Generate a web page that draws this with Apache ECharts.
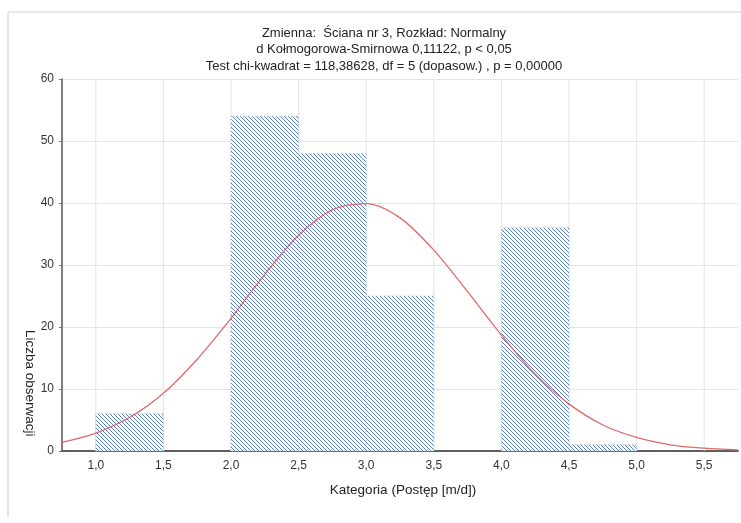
<!DOCTYPE html>
<html><head><meta charset="utf-8">
<script src="https://cdn.jsdelivr.net/npm/echarts@6/dist/echarts.min.js"></script>
<style>html,body{margin:0;padding:0;background:#fff}#c{width:741px;height:523px}</style>
</head><body><div id="c"></div>
<script>
// Histogram bins (lower edge, upper edge) and counts
const binStart = [1.0, 1.5, 2.0, 2.5, 3.0, 3.5, 4.0, 4.5];
const binEnd   = [1.5, 2.0, 2.5, 3.0, 3.5, 4.0, 4.5, 5.0];
const counts   = [6, 0, 54, 48, 25, 0, 36, 1];
// Fitted normal curve
const curveX = [0.75, 1.0, 1.25, 1.5, 1.75, 2.0, 2.25, 2.5, 2.75, 3.0, 3.25, 3.5, 3.75, 4.0, 4.25, 4.5, 4.75, 5.0, 5.25, 5.5, 5.75];
const curveY = [1.4, 2.9, 5.4, 9.3, 14.8, 21.4, 28.5, 34.8, 38.9, 39.9, 37.6, 32.4, 25.7, 18.7, 12.4, 7.6, 4.2, 2.2, 1.0, 0.45, 0.17];
const xTicks = ['1,0','1,5','2,0','2,5','3,0','3,5','4,0','4,5','5,0','5,5'];
const titleLines = ['Zmienna:  Ściana nr 3, Rozkład: Normalny', 'd Kołmogorowa-Smirnowa 0,11122, p < 0,05', 'Test chi-kwadrat = 118,38628, df = 5 (dopasow.) , p = 0,00000'];

const bars = binStart.map((s, i) => [s, binEnd[i], counts[i]]);
const curve = curveX.map((x, i) => [x, curveY[i]]);

// hatch pattern
const pc = document.createElement('canvas');
pc.width = 4; pc.height = 4;
const g = pc.getContext('2d');
g.fillStyle = '#ffffff'; g.fillRect(0,0,4,4);
g.strokeStyle = '#5a7fba'; g.lineWidth = 1;
g.beginPath();
g.moveTo(-1,-1); g.lineTo(5,5);
g.moveTo(-1,3); g.lineTo(1,5);
g.moveTo(3,-1); g.lineTo(5,1);
g.stroke();

const font = 'Liberation Sans, Arial, sans-serif';
const chart = echarts.init(document.getElementById('c'));
chart.setOption({
  animation: false,
  backgroundColor: '#fff',
  title: {
    text: titleLines.join('\n'),
    left: 379, top: 20, textAlign: 'center',
    textStyle: { fontFamily: font, fontSize: 13, fontWeight: 'normal', color: '#222', lineHeight: 16.5 }
  },
  graphic: [
    { type: 'line', shape: { x1: 8, y1: 12, x2: 741, y2: 12 }, style: { stroke: '#e8e8e8', lineWidth: 2 } },
    { type: 'line', shape: { x1: 8, y1: 12, x2: 8, y2: 517 }, style: { stroke: '#e8e8e8', lineWidth: 2 } },
    { type: 'text', left: 23, top: 330, rotation: -Math.PI / 2, originX: 0, originY: 0,
      style: { text: 'Liczba obserwacji', font: '13.5px ' + font, fill: '#222' } }
  ],
  grid: { left: 62, top: 79, width: 680, height: 372 },
  xAxis: [{
    type: 'value', min: 0.75, max: 5.75, interval: 0.25,
    axisLine: { show: true, onZero: false, lineStyle: { color: '#555', width: 1.5 } },
    axisTick: { show: false },
    axisLabel: {
      color: '#333', fontFamily: font, fontSize: 12, margin: 9,
      formatter: v => { const i = xTicks.indexOf(v.toFixed(1).replace('.', ',')); return (Math.abs(v*2 - Math.round(v*2)) < 1e-6 && i >= 0) ? xTicks[i] : ''; }
    },
    splitLine: { show: false },
    name: 'Kategoria (Postęp [m/d])', nameLocation: 'middle', nameGap: 32,
    nameTextStyle: { color: '#222', fontFamily: font, fontSize: 13.5, padding: [0, 0, 0, 6] }
  }, {
    type: 'value', position: 'top', min: 0.75, max: 5.75, interval: 0.25,
    axisLine: { show: true, lineStyle: { color: '#555', width: 1.5 } },
    axisTick: { show: false }, axisLabel: { show: false }, splitLine: { show: false }
  }],
  yAxis: {
    type: 'value', min: 0, max: 60, interval: 10,
    axisLine: { show: true, lineStyle: { color: '#555', width: 1.5 } },
    axisTick: { show: true, length: 3, lineStyle: { color: '#777' } },
    axisLabel: { color: '#333', fontFamily: font, fontSize: 12, margin: 8 },
    splitLine: { show: true, lineStyle: { color: '#e4e4e4', width: 1 } }
  },
  series: [
    { // vertical grid lines at every 0.5
      type: 'custom', xAxisIndex: 0, silent: true, z: 1,
      data: [1.0,1.5,2.0,2.5,3.0,3.5,4.0,4.5,5.0,5.5],
      renderItem: (params, api) => {
        const p0 = api.coord([api.value(0), 0]);
        const p1 = api.coord([api.value(0), 60]);
        return { type: 'line', shape: { x1: p0[0], y1: p0[1], x2: p1[0], y2: p1[1] }, style: { stroke: '#e4e4e4', lineWidth: 1 } };
      }
    },
    {
      type: 'custom', xAxisIndex: 0, z: 2,
      data: bars,
      renderItem: (params, api) => {
        if (api.value(2) <= 0) return null;
        const a = api.coord([api.value(0), api.value(2)]);
        const b = api.coord([api.value(1), 0]);
        return { type: 'rect', shape: { x: a[0], y: a[1], width: b[0] - a[0], height: b[1] - a[1] },
          style: { fill: { image: pc, repeat: 'repeat' }, stroke: '#a8bddc', lineWidth: 1, lineDash: [1, 2] } };
      }
    },
    {
      type: 'line', xAxisIndex: 0, data: curve, smooth: 0.3, showSymbol: false, z: 3,
      lineStyle: { color: '#e06a6a', width: 1.3 }
    }
  ]
});
</script></body></html>
